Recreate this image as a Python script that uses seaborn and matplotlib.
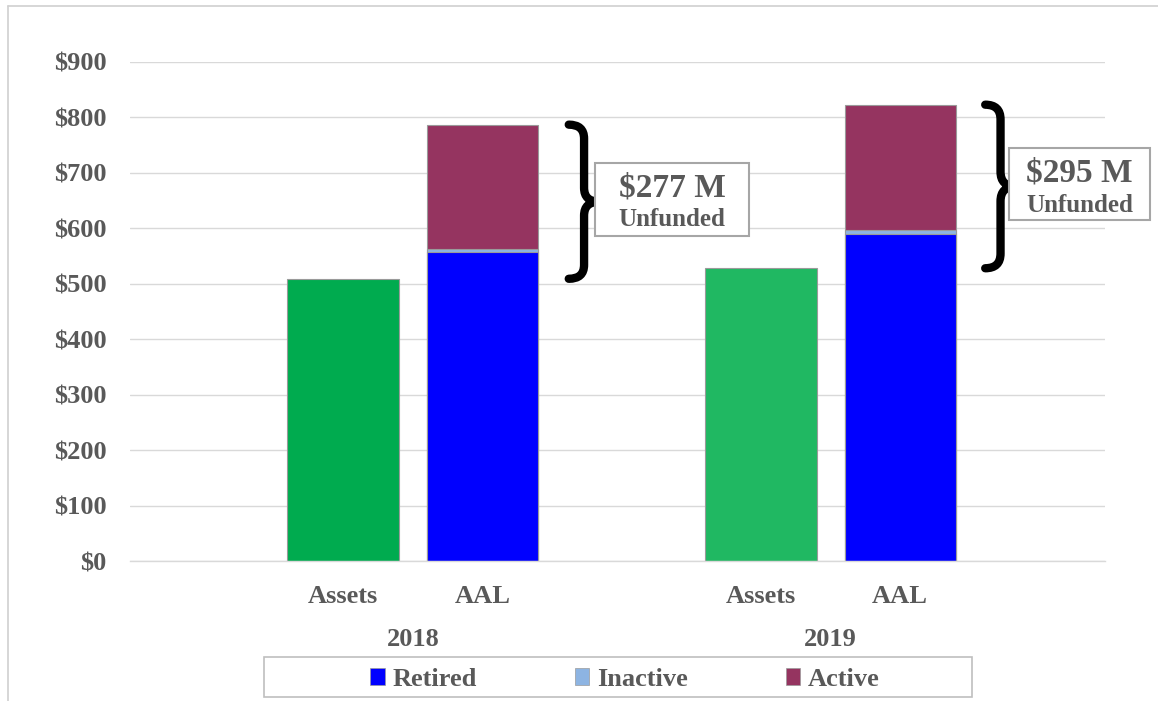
import matplotlib
matplotlib.use("Agg")
import matplotlib.pyplot as plt
import seaborn as sns
import pandas as pd
from matplotlib.patches import Patch, Rectangle, PathPatch
from matplotlib.path import Path
from matplotlib.lines import Line2D

# ---------------- data ----------------
years = ["2018", "2019"]
assets = [509, 528]
retired = [557, 590]
inactive = [6, 7]
active = [224, 226]
unfunded_labels = ["$277 M", "$295 M"]
bar_labels = ["Assets", "AAL"]
ytick_values = [0, 100, 200, 300, 400, 500, 600, 700, 800, 900]
ytick_labels = ["$0", "$100", "$200", "$300", "$400", "$500", "$600", "$700", "$800", "$900"]
legend_labels = ["Retired", "Inactive", "Active"]

# ---------------- styling ----------------
GRAY = "#595959"
C_ASSETS = ["#00ab4f", "#20b862"]
C_RETIRED = "#0000ff"
C_INACTIVE = "#8db4e2"
C_ACTIVE = "#953460"
FONT = ["Liberation Serif", "DejaVu Serif"]

sns.set_theme(style="white")
plt.rcParams["font.family"] = FONT
plt.rcParams["font.weight"] = "bold"

# slots: blank, Assets, AAL, blank, Assets, AAL, blank
order = ["s0", "2018 Assets", "2018 AAL", "s3", "2019 Assets", "2019 AAL", "s6"]

fig = plt.figure(figsize=(11.58, 7.01), dpi=100)
W, H = 1158, 701
ax = fig.add_axes([130 / W, 1 - 561 / H, (1105 - 130) / W, (561 - 62) / H])

# assets bars
df_assets = pd.DataFrame({"slot": [f"{y} Assets" for y in years], "value": assets})
sns.barplot(data=df_assets, x="slot", y="value", order=order, hue="slot",
            palette=dict(zip(df_assets["slot"], C_ASSETS)), dodge=False, saturation=1,
            width=0.8, legend=False, ax=ax, edgecolor="#9a9a9a", linewidth=0.8)

# AAL stacked bars drawn as cumulative layers
aal_slots = [f"{y} AAL" for y in years]
tot_active = [r + i + a for r, i, a in zip(retired, inactive, active)]
tot_inactive = [r + i for r, i in zip(retired, inactive)]
for vals, col in [(tot_active, C_ACTIVE), (tot_inactive, C_INACTIVE), (retired, C_RETIRED)]:
    d = pd.DataFrame({"slot": aal_slots, "value": vals})
    sns.barplot(data=d, x="slot", y="value", order=order, color=col, saturation=1,
                width=0.8, ax=ax, edgecolor="#9a9a9a", linewidth=0.8)

ax.set_xlim(-0.53, 6.47)
ax.set_ylim(0, 900)
ax.set_yticks(ytick_values)
ax.set_yticklabels(ytick_labels)
ax.set_xticks([1, 2, 4, 5])
ax.set_xticklabels(bar_labels * 2)
ax.set_xlabel("")
ax.set_ylabel("")
ax.tick_params(axis="both", length=0, colors=GRAY, labelsize=19)
ax.tick_params(axis="y", pad=17)
ax.tick_params(axis="x", pad=17)
for t in ax.get_xticklabels() + ax.get_yticklabels():
    t.set_fontweight("bold")
    t.set_color(GRAY)
ax.yaxis.grid(True, color="#d9d9d9", linewidth=1)
ax.set_axisbelow(True)
for s in ["top", "right", "left"]:
    ax.spines[s].set_visible(False)
ax.spines["bottom"].set_color("#d9d9d9")
ax.spines["bottom"].set_linewidth(1)

# year labels
for i, y in enumerate(years):
    ax.text(1.5 + 3 * i, -(640 - 561) / (561 - 62), y, transform=ax.get_xaxis_transform(),
            ha="center", va="center", fontsize=19, fontweight="bold", color=GRAY)

# braces
def brace(x0, w, y0, y1):
    xm = x0 + w * 0.5
    x1 = x0 + w
    mid = (y0 + y1) / 2
    r = (y1 - y0) * 0.09
    verts = [(x0, y1), (xm, y1), (xm, y1 - r),
             (xm, mid + r),
             (xm, mid), (x1, mid),
             (xm, mid), (xm, mid - r),
             (xm, y0 + r),
             (xm, y0), (x0, y0)]
    codes = [Path.MOVETO, Path.CURVE3, Path.CURVE3,
             Path.LINETO,
             Path.CURVE3, Path.CURVE3,
             Path.CURVE3, Path.CURVE3,
             Path.LINETO,
             Path.CURVE3, Path.CURVE3]
    p = PathPatch(Path(verts, codes), facecolor="none", edgecolor="black",
                  linewidth=6, capstyle="round", joinstyle="round", clip_on=False)
    ax.add_patch(p)

brace_x = [2.62, 5.61]
for i in range(2):
    brace(brace_x[i], 0.22, assets[i], tot_active[i])

# unfunded boxes (figure pixel coordinates)
boxes = [(595, 163, 749, 236), (1009, 148, 1150, 220)]
for (x0, y0, x1, y1), lab in zip(boxes, unfunded_labels):
    fig.patches.append(Rectangle((x0 / W, 1 - y1 / H), (x1 - x0) / W, (y1 - y0) / H,
                                 transform=fig.transFigure, facecolor="white",
                                 edgecolor="#a6a6a6", linewidth=1.5, zorder=5))
    cx = (x0 + x1) / 2 / W
    fig.text(cx, 1 - (y0 + 25) / H, lab, ha="center", va="center", fontsize=24,
             fontweight="bold", color=GRAY, zorder=6)
    fig.text(cx, 1 - (y0 + 57) / H, "Unfunded", ha="center", va="center", fontsize=18,
             fontweight="bold", color=GRAY, zorder=6)

# legend
fig.patches.append(Rectangle((264 / W, 1 - 697 / H), (972 - 264) / W, 40 / H,
                             transform=fig.transFigure, facecolor="white",
                             edgecolor="#bfbfbf", linewidth=1.2))
handles = [Patch(facecolor=c, edgecolor="#9a9a9a", linewidth=0.5)
           for c in [C_RETIRED, C_INACTIVE, C_ACTIVE]]
leg = fig.legend(handles, legend_labels, loc="center", bbox_to_anchor=(625 / W, 1 - 679 / H),
                 ncol=3, frameon=False, handlelength=0.55, handleheight=0.6,
                 handletextpad=0.3, columnspacing=3.7,
                 prop={"family": FONT, "weight": "bold", "size": 19})
for t in leg.get_texts():
    t.set_color(GRAY)

# chart outer border
fig.add_artist(Line2D([8 / W, 8 / W], [1 - 6 / H, -0.01], transform=fig.transFigure,
                      color="#d0d0d0", linewidth=1.2))
fig.add_artist(Line2D([8 / W, 1.01], [1 - 6 / H, 1 - 6 / H], transform=fig.transFigure,
                      color="#d0d0d0", linewidth=1.2))

fig.savefig("out.png", dpi=100, facecolor="white")
